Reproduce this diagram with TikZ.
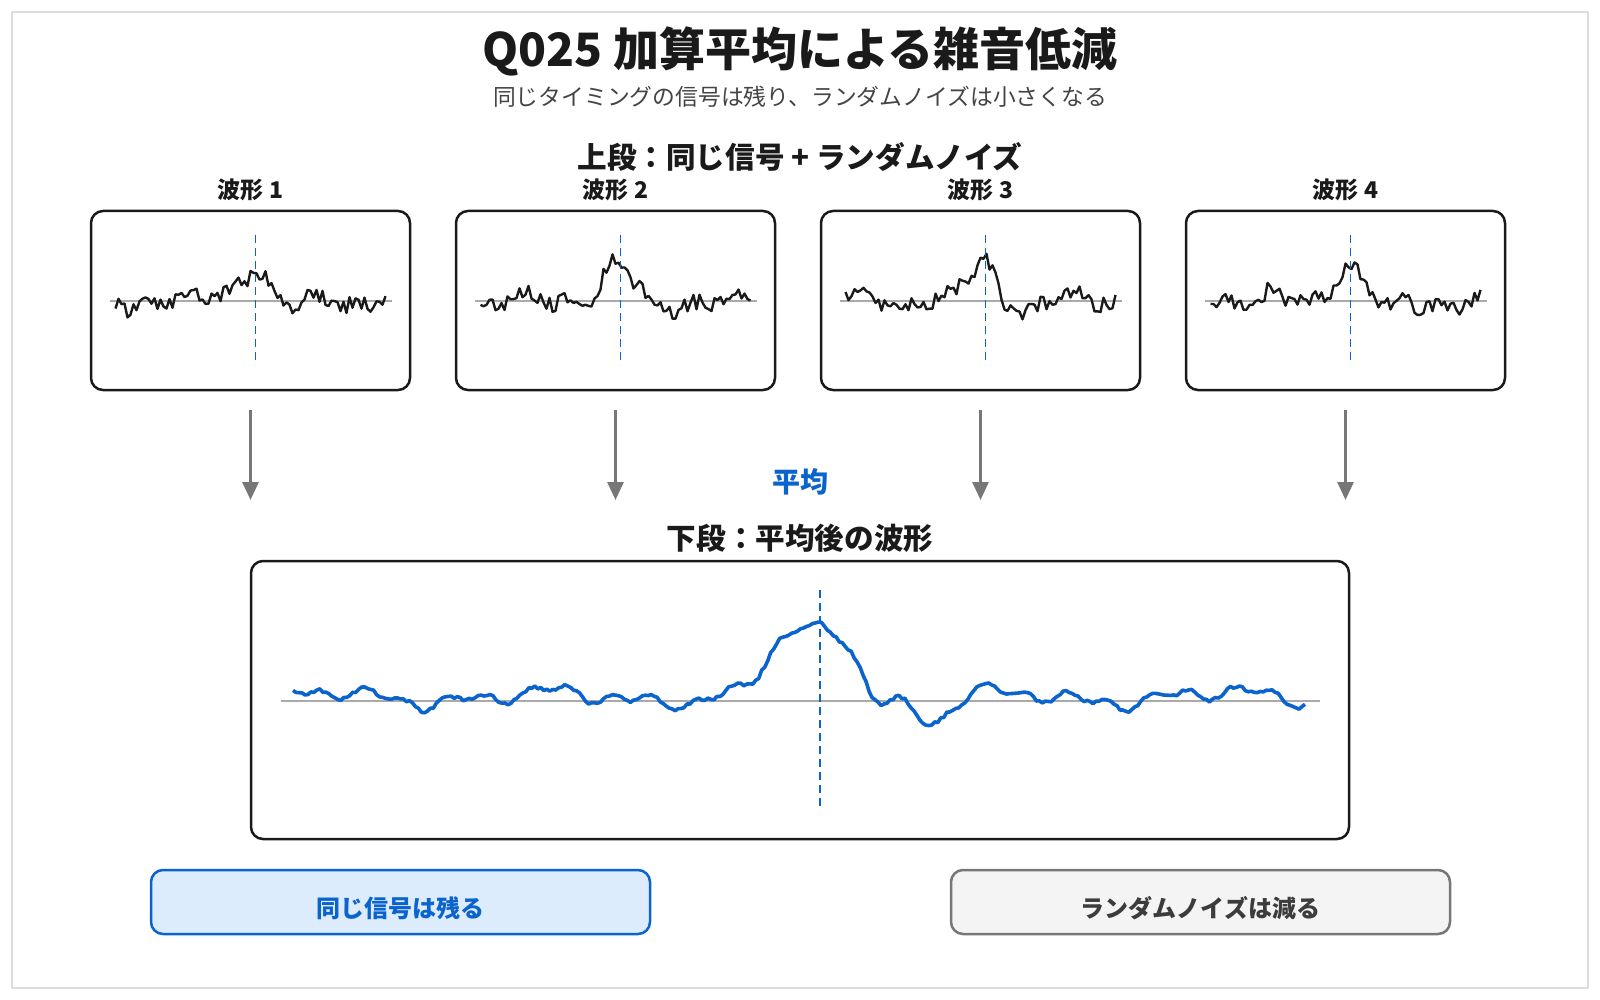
\documentclass[tikz,border=0pt]{standalone}
\usepackage{fontspec}
\setmainfont{Noto Sans CJK JP}
\usetikzlibrary{arrows.meta}
\definecolor{ink}{HTML}{1A1A1A}
\definecolor{subg}{HTML}{444444}
\definecolor{accent}{HTML}{0B63CE}
\definecolor{lightacc}{HTML}{DDECFC}
\definecolor{arrg}{HTML}{777777}
\definecolor{boxg}{HTML}{F4F4F4}
\definecolor{basel}{HTML}{AAAAAA}
\definecolor{frameg}{HTML}{DDDDDD}
\tikzset{
  wbox/.style={draw=ink, line width=1.25pt, rounded corners=6pt, minimum width=159.5pt, minimum height=89.5pt, inner sep=0pt},
  bigbox/.style={draw=ink, line width=1.25pt, rounded corners=6pt, minimum width=549pt, minimum height=139pt, inner sep=0pt},
  keepbox/.style={draw=accent, fill=lightacc, line width=1.25pt, rounded corners=6pt, minimum width=249.5pt, minimum height=32pt, inner sep=0pt},
  dropbox/.style={draw=arrg, fill=boxg, line width=1.25pt, rounded corners=6pt, minimum width=249.5pt, minimum height=32pt, inner sep=0pt},
  baseln/.style={draw=basel, line width=0.9pt},
  mark line/.style={draw=accent, line width=0.9pt, dash pattern=on 4pt off 2.5pt},
  wave/.style={draw=ink, line width=1.2pt, line join=round},
  avgwave/.style={draw=accent, line width=1.8pt, line join=round},
  downarr/.style={draw=arrg, line width=1.5pt, -{Triangle[length=9pt,width=8pt]}},
  titletext/.style={font=\fontsize{23pt}{27pt}\selectfont\bfseries, text=ink},
  subtext/.style={font=\fontsize{11.4pt}{14pt}\selectfont, text=subg},
  headtext/.style={font=\fontsize{14.8pt}{18pt}\selectfont\bfseries, text=ink},
  labtext/.style={font=\fontsize{11.5pt}{14pt}\selectfont\bfseries, text=ink},
}
\begin{document}
\begin{tikzpicture}[x=0.5pt,y=-0.5pt,
  declare function={
    sigt(\u)=36*exp(-min(9,(\u/(24-8*(\u>0)))*(\u/(24-8*(\u>0))))) - 9*exp(-min(9,((\u-38)/14)*((\u-38)/14)));
    zb(\u)=min(3,(\u/(60-15*(\u>0)))*(\u/(60-15*(\u>0))));
    sigb(\u)=64*exp(-zb(\u)*zb(\u)) - 24*exp(-min(9,((\u-112)/22)*((\u-112)/22)));
  }]
\pgfmathsetseed{4217}
\useasboundingbox (0,0) rectangle (1600,1000);
\draw[frameg, line width=0.8pt] (12,12) rectangle (1588,988);

\node[titletext] (title) at (800,51) {Q025 加算平均による雑音低減};
\node[subtext] (subtitle) at (800,97) {同じタイミングの信号は残り、ランダムノイズは小さくなる};
\node[headtext] (tophead) at (800,157) {上段：同じ信号 + ランダムノイズ};

\foreach \k/\cx/\ph in {1/250.5/10, 2/615.5/130, 3/980.5/250, 4/1345.5/60} {
  \node[labtext] (lab\k) at (\cx,190) {波形 \k};
  \node[wbox] (w\k) at (\cx,300.5) {};
  \draw[baseln] (\cx-141,301) -- (\cx+141,301);
  \draw[wave] plot[domain=0:270, samples=91]
     ({\cx-135+\x}, {301 - sigt(\x-140) + 8*rand + 6*sin(3.3*\x+\ph) + 5*sin(8.5*\x+2*\ph)});
  \draw[mark line] (\cx+5,235) -- (\cx+5,365);
  \coordinate (as\k) at (\cx,410);
  \coordinate (ae\k) at (\cx,500);
  \draw[downarr] (as\k) -- (ae\k);
}

\node[font=\fontsize{14pt}{17pt}\selectfont\bfseries, text=accent] (avg) at (800,482) {平均};
\node[headtext] (bothead) at (800,538) {下段：平均後の波形};

\node[bigbox] (res) at (800,700) {};
\draw[baseln] (281,701) -- (1320,701);
\draw[avgwave] plot[domain=0:1012, samples=340]
   ({293+\x}, {701 - sigb(\x-527) - 6*sin(1.6*\x+40) - 5*sin(4.1*\x+110) - 4*sin(8.7*\x+200) - 4 + 1.8*rand});
\draw[mark line] (820,590) -- (820,806);

\node[keepbox] (keep) at (400.5,902) {};
\node[font=\fontsize{12pt}{14pt}\selectfont\bfseries, text=accent] (keept) at (400.5,908) {同じ信号は残る};
\node[dropbox] (drop) at (1200.5,902) {};
\node[font=\fontsize{12pt}{14pt}\selectfont\bfseries, text=ink!85] (dropt) at (1200.5,908) {ランダムノイズは減る};
\end{tikzpicture}
\end{document}
